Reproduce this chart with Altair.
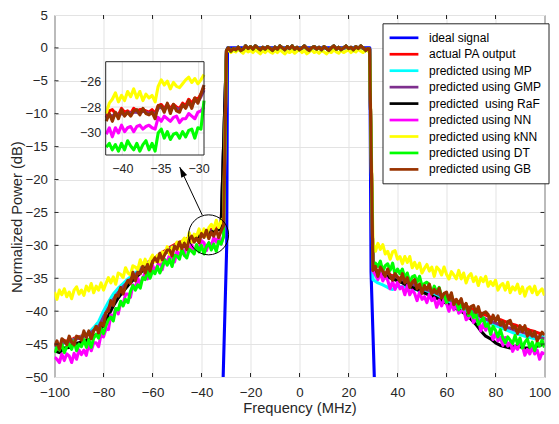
import altair as alt
import pandas as pd

NAMES = ["ideal signal", "actual PA output", "predicted using MP", "predicted using GMP",
         "predicted\u00a0 using RaF", "predicted using NN", "predicted using kNN",
         "predicted using DT", "predicted using GB"]
COLORS = ["#0000ff", "#ff0000", "#00ffff", "#7e2f8e", "#000000", "#ff00ff", "#ffff00",
          "#00ff00", "#993300"]

X_TICKS = [-100, -80, -60, -40, -20, 0, 20, 40, 60, 80, 100]
Y_TICKS = [5, 0, -5, -10, -15, -20, -25, -30, -35, -40, -45, -50]
INSET_X_TICKS = [-40, -35, -30]
INSET_Y_TICKS = [-30, -28, -26]
INSET_XDOM = [-42.17, -29.3]
INSET_YDOM = [-31.7, -24.5]

# frequency grids (MHz)
F_L1 = list(range(-100, -30))          # -100 .. -31
F_R1 = list(range(30, 101))            # 30 .. 100
F_L2 = list(range(-100, -31, 2))       # -100 .. -32
F_R2 = list(range(30, 101, 2))         # 30 .. 100
F_BAND = [-29.8] + list(range(-29, 29)) + [28.6]

IDEAL_F = [-31.3, -29.7, -29.4, 28.7, 29.2, 30.7]
IDEAL_P = [-52, -30, 0, 0, -34, -52]

BAND_COMMON = [-0.4, 0.0, -0.5, -0.1, -0.3, 0.1, -0.4, -0.2, 0.3, -0.1,
               0.2, -0.2, 0.3, 0.0, -0.3, 0.1, -0.2, 0.2, -0.1, -0.4,
               0.1, -0.2, 0.3, 0.0, -0.3, 0.2, -0.1, 0.3, -0.2, 0.1,
               -0.3, 0.0, 0.3, -0.1, -0.4, 0.0, 0.2, -0.2, 0.1, -0.3,
               0.2, -0.1, -0.4, 0.0, 0.3, -0.2, 0.1, -0.3, 0.0, 0.3,
               -0.1, 0.1, -0.3, 0.2, -0.1, 0.3, 0.0, -0.4, -0.1, -0.2]
BAND_KNN = [-0.6, -0.3, -0.7, -0.4, -0.6, -0.2, -0.5, -0.8, -0.3, -0.6,
            -0.4, -0.7, -0.3, -0.6, -0.9, -0.4, -0.7, -0.3, -0.6, -0.8,
            -0.4, -0.7, -0.3, -0.6, -0.9, -0.5, -0.7, -0.4, -0.8, -0.5,
            -0.3, -0.7, -0.4, -0.9, -0.6, -0.3, -0.7, -0.5, -0.8, -0.4,
            -0.6, -0.9, -0.5, -0.7, -0.3, -0.6, -0.8, -0.4, -0.7, -0.5,
            -0.3, -0.7, -0.4, -0.6, -0.2, -0.5, -0.7, -0.3, -0.5, -0.4]

# 1 MHz series, left side (-100..-31)
KNN_L = [-37.1, -38.2, -36.8, -37.5, -36.6, -37.8, -37.1, -38.1, -36.8, -36.3,
         -37.4, -36.8, -37.6, -36.2, -36.9, -35.8, -37.2, -36.2, -36.8, -35.7,
         -36.8, -35.8, -34.9, -35.7, -34.8, -35.9, -34.2, -34.4, -34.9, -33.4,
         -34.2, -34.5, -33.1, -33.3, -33.7, -32.2, -33.2, -32.1, -33.4, -32.2,
         -31.5, -32.5, -31.5, -32.5, -31.0, -31.3, -30.2, -31.4, -30.3, -30.6,
         -29.5, -30.6, -29.5, -28.9, -29.6, -28.1, -29.5, -28.3, -28.6, -27.5,
         -28.6, -27.5, -28.6, -27.3, -26.8, -27.5, -26.2, -27.3, -26.4, -25.8]
GB_L = [-45.3, -44.5, -45.8, -44.2, -44.5, -45.1, -43.8, -44.7, -45.1, -43.8,
        -44.0, -44.4, -43.0, -44.0, -43.0, -44.2, -43.0, -42.3, -43.3, -41.8,
        -42.2, -40.2, -40.0, -38.4, -39.1, -37.6, -37.7, -36.4, -37.4, -36.1,
        -35.3, -35.8, -34.1, -35.4, -34.1, -34.3, -33.2, -34.2, -32.9, -33.9,
        -32.5, -31.9, -32.5, -31.2, -32.2, -31.4, -30.7, -30.7, -31.6, -30.1,
        -30.6, -29.5, -30.5, -29.7, -30.6, -29.1, -28.6, -29.5, -28.9, -29.6,
        -28.2, -28.8, -27.7, -29.0, -28.0, -28.6, -27.6, -28.8, -27.8, -27.0]
DT_L = [-46.3, -45.5, -45.9, -45.0, -46.3, -45.4, -45.0, -45.8, -44.5, -46.0,
        -45.0, -45.4, -44.3, -45.5, -44.3, -45.5, -44.1, -43.5, -44.1, -42.6,
        -43.4, -42.2, -41.3, -40.9, -41.5, -39.6, -39.8, -38.5, -39.2, -38.2,
        -38.7, -37.0, -36.1, -36.8, -36.0, -36.5, -34.9, -35.2, -33.9, -35.0,
        -33.9, -34.3, -33.2, -34.2, -33.2, -32.2, -33.0, -32.1, -33.2, -31.5,
        -31.6, -32.1, -30.6, -31.5, -31.9, -30.6, -30.9, -31.3, -29.9, -31.0,
        -30.0, -31.3, -30.2, -29.6, -30.7, -29.8, -30.9, -29.4, -29.8, -28.7]
NN_L = [-47.0, -47.3, -47.8, -46.5, -47.5, -46.5, -46.8, -47.8, -46.4, -47.3,
        -45.9, -46.6, -45.9, -46.7, -44.9, -46.0, -44.8, -44.8, -45.4, -43.5,
        -43.9, -42.7, -42.8, -40.6, -40.8, -39.6, -40.4, -38.7, -39.0, -37.4,
        -37.4, -37.9, -36.0, -36.5, -35.0, -35.9, -35.0, -34.2, -35.1, -34.2,
        -33.0, -34.0, -33.1, -32.4, -33.7, -32.1, -32.6, -31.4, -31.9, -32.5,
        -30.9, -31.6, -30.7, -31.5, -29.9, -30.8, -29.9, -31.1, -30.1, -30.5,
        -29.3, -29.6, -30.8, -29.6, -30.1, -28.8, -29.5, -28.7, -29.8, -28.5]

# 1 MHz series, right side (30..100)
KNN_R = [-29.6, -30.9, -29.7, -30.6, -29.9, -31.3, -30.9, -32.1, -31.0, -30.8,
         -32.1, -31.7, -32.8, -31.7, -32.6, -31.7, -33.4, -32.6, -33.5, -32.7,
         -34.2, -33.5, -32.9, -33.9, -33.3, -34.7, -33.3, -33.7, -34.5, -33.3,
         -34.4, -35.1, -34.0, -34.5, -35.1, -33.8, -35.1, -34.2, -35.7, -34.7,
         -34.3, -35.5, -34.8, -36.1, -34.9, -35.5, -34.7, -36.2, -35.5, -36.1,
         -35.3, -36.8, -36.1, -35.8, -36.8, -35.6, -37.2, -36.3, -36.8, -35.9,
         -37.3, -36.3, -37.7, -36.6, -36.3, -37.2, -36.2, -37.5, -37.0, -36.6,
         -37.6]
GB_R = [-33.8, -33.2, -34.7, -33.3, -33.9, -34.7, -33.6, -34.7, -35.3, -34.3,
        -34.8, -35.5, -34.3, -35.7, -34.9, -36.4, -35.6, -35.2, -36.6, -35.9,
        -37.3, -36.1, -36.7, -35.9, -37.4, -36.7, -37.3, -36.5, -38.0, -37.3,
        -37.1, -38.3, -37.2, -39.0, -38.2, -38.9, -38.1, -39.6, -38.8, -40.3,
        -39.3, -39.1, -40.2, -39.3, -40.8, -40.3, -40.1, -40.5, -41.8, -40.6,
        -41.5, -40.7, -42.1, -41.6, -42.8, -41.6, -41.4, -42.6, -42.3, -43.4,
        -42.2, -43.1, -42.2, -43.8, -43.0, -43.8, -43.1, -44.5, -43.8, -43.2,
        -43.6]
DT_R = [-33.4, -32.7, -33.2, -32.4, -33.9, -33.1, -32.8, -33.8, -32.7, -34.4,
        -33.6, -34.3, -33.6, -35.0, -34.2, -35.7, -34.8, -34.6, -35.6, -34.7,
        -36.2, -35.8, -35.6, -36.0, -37.3, -36.2, -37.1, -36.4, -37.8, -37.5,
        -38.7, -37.7, -37.5, -38.9, -38.6, -39.8, -38.7, -39.7, -38.9, -40.7,
        -40.0, -41.0, -40.4, -42.0, -41.5, -41.0, -42.3, -41.9, -43.5, -42.3,
        -42.9, -43.9, -42.8, -44.1, -44.8, -43.9, -44.4, -44.9, -43.7, -45.0,
        -44.1, -45.6, -44.7, -44.2, -45.5, -44.7, -46.0, -44.7, -45.3, -44.4,
        -45.5]
NN_R = [-33.9, -34.5, -35.2, -34.1, -35.4, -34.7, -35.3, -36.6, -35.5, -36.7,
        -35.6, -36.6, -36.3, -37.5, -36.1, -37.5, -36.8, -37.3, -38.4, -37.1,
        -38.2, -37.8, -38.7, -37.4, -38.4, -38.0, -39.4, -38.3, -39.2, -38.2,
        -38.8, -40.0, -38.8, -39.8, -38.8, -40.3, -40.0, -39.8, -41.3, -41.0,
        -40.2, -41.7, -41.3, -41.2, -43.0, -41.9, -42.9, -42.2, -43.2, -44.3,
        -43.3, -44.5, -44.0, -45.2, -44.0, -45.3, -44.7, -46.1, -45.3, -45.8,
        -44.8, -45.3, -46.7, -45.8, -46.5, -45.4, -46.5, -45.9, -47.3, -46.3,
        -46.5]

# 2 MHz series (mostly hidden under GB)
PA_L = [-45.0, -45.2, -44.5, -44.6, -44.1, -43.9, -43.7, -43.4, -42.7, -42.2,
        -40.7, -39.4, -38.1, -37.0, -36.1, -35.3, -34.6, -33.9, -33.2, -32.6,
        -32.2, -31.6, -31.1, -30.6, -30.1, -29.7, -29.4, -29.0, -28.7, -28.4,
        -28.1, -27.8, -27.6, -27.4, -27.1]
MP_L = [-45.3, -45.4, -44.8, -44.7, -44.3, -44.0, -43.8, -43.3, -42.5, -41.6,
        -40.0, -38.6, -37.4, -36.5, -35.8, -35.1, -34.5, -33.9, -33.3, -32.7,
        -32.3, -31.8, -31.3, -30.8, -30.3, -29.9, -29.6, -29.2, -28.9, -28.6,
        -28.3, -28.1, -27.9, -27.6, -27.4]
GMP_L = [-45.2, -45.3, -44.7, -44.8, -44.3, -44.1, -43.8, -43.5, -42.9, -42.4,
         -40.9, -39.6, -38.3, -37.2, -36.3, -35.5, -34.8, -34.1, -33.4, -32.8,
         -32.4, -31.8, -31.3, -30.8, -30.3, -29.9, -29.6, -29.2, -28.9, -28.6,
         -28.3, -28.0, -27.8, -27.6, -27.3]
RAF_L = [-46.0, -46.3, -45.6, -45.5, -45.0, -44.8, -44.6, -44.3, -43.8, -43.4,
         -42.1, -40.7, -39.2, -38.0, -37.0, -36.1, -35.3, -34.6, -33.8, -33.1,
         -32.6, -32.0, -31.5, -31.0, -30.5, -30.1, -29.8, -29.4, -29.1, -28.8,
         -28.5, -28.2, -28.0, -27.7, -27.5]
PA_R = [-33.6, -33.9, -34.0, -34.4, -34.6, -34.9, -35.1, -35.5, -35.8, -36.0,
        -36.4, -36.6, -36.8, -37.1, -37.5, -37.8, -38.1, -38.5, -38.8, -39.2,
        -39.6, -39.9, -40.3, -40.6, -40.9, -41.2, -41.3, -41.6, -41.9, -42.1,
        -42.4, -42.6, -42.9, -43.1, -43.4, -43.6]
MP_R = [-35.2, -35.7, -36.0, -36.4, -36.7, -36.2, -36.3, -36.4, -36.6, -36.8,
        -37.0, -37.2, -37.4, -37.6, -37.9, -38.3, -38.7, -39.1, -39.5, -39.9,
        -40.3, -40.7, -41.1, -41.5, -41.9, -42.2, -42.5, -42.8, -43.1, -43.4,
        -43.6, -43.8, -44.0, -44.2, -44.0, -43.8]
GMP_R = [-33.8, -34.1, -34.2, -34.6, -34.8, -35.1, -35.3, -35.7, -36.0, -36.2,
         -36.6, -36.8, -37.0, -37.3, -37.7, -38.0, -38.4, -38.8, -39.2, -39.6,
         -40.0, -40.4, -40.8, -41.2, -41.5, -41.8, -42.1, -42.4, -42.6, -42.9,
         -43.1, -43.3, -43.6, -43.8, -44.0, -44.2]
RAF_R = [-33.8, -34.2, -34.4, -34.8, -35.1, -35.4, -35.7, -36.1, -36.4, -36.7,
         -37.1, -37.4, -37.7, -38.0, -38.4, -38.8, -39.2, -39.6, -40.0, -40.5,
         -41.2, -42.0, -43.0, -43.8, -44.2, -44.8, -45.2, -45.4, -45.6, -45.3,
         -45.4, -45.6, -45.6, -45.4, -45.2, -45.0]

# inset (zoom of -42..-29 MHz)
INSET_F = [-42.1, -41.7, -41.3, -40.9, -40.5, -40.1, -39.7, -39.3, -38.9, -38.5,
           -38.1, -37.7, -37.3, -36.9, -36.5, -36.1, -35.7, -35.3, -34.9, -34.5,
           -34.1, -33.7, -33.3, -32.9, -32.5, -32.1, -31.7, -31.3, -30.9, -30.5,
           -30.1, -29.7, -29.3]
IN_KNN = [-28.5, -27.7, -27.4, -26.9, -27.6, -27.1, -27.5, -26.8, -27.2, -26.6,
          -27.3, -26.8, -27.5, -27.0, -27.3, -27.1, -27.6, -26.4, -25.9, -26.3,
          -26.0, -26.6, -26.1, -26.4, -26.5, -26.2, -25.9, -25.7, -26.1, -25.8,
          -26.2, -25.9, -25.5]
IN_GB = [-29.1, -28.5, -29.1, -28.4, -28.9, -28.2, -28.7, -28.4, -28.7, -28.3,
         -28.2, -28.6, -28.1, -28.5, -28.6, -28.4, -28.9, -27.9, -27.9, -28.4,
         -27.7, -28.5, -27.8, -28.3, -28.4, -27.8, -28.1, -27.5, -28.1, -27.3,
         -27.7, -27.0, -26.3]
IN_NN = [-30.1, -29.6, -30.3, -29.6, -30.0, -29.4, -29.9, -29.6, -29.5, -29.9,
         -29.5, -29.4, -29.7, -29.5, -29.4, -29.6, -29.7, -28.8, -29.1, -28.7,
         -28.9, -29.1, -28.8, -28.7, -29.2, -28.9, -28.9, -28.5, -28.7, -28.9,
         -28.4, -28.3, -28.0]
IN_DT = [-31.1, -30.8, -31.3, -30.9, -31.4, -30.8, -31.3, -30.6, -31.0, -31.3,
         -30.8, -31.4, -30.9, -30.6, -31.3, -30.8, -31.4, -30.0, -29.7, -30.4,
         -29.9, -30.5, -30.1, -30.0, -30.4, -29.9, -30.3, -29.8, -29.7, -30.4,
         -29.6, -29.7, -27.5]
IN_PA = [-28.8, -28.3, -28.2, -28.5, -28.6, -28.1, -28.4, -28.3, -28.5, -28.1,
         -28.3, -28.2, -28.2, -28.3, -28.4, -28.2, -28.5, -27.9, -27.8, -28.1,
         -27.8, -28.1, -27.8, -28.0, -28.1, -27.7, -27.9, -27.4, -27.7, -27.3,
         -27.4, -27.0, -26.5]
IN_GMP = [-28.9, -28.6, -28.7, -28.5, -28.6, -28.5, -28.6, -28.4, -28.5, -28.4,
          -28.4, -28.5, -28.3, -28.4, -28.5, -28.4, -28.6, -28.1, -28.0, -28.2,
          -27.9, -28.2, -28.0, -28.1, -28.2, -27.9, -28.0, -27.7, -27.9, -27.5,
          -27.6, -27.2, -26.7]

# annotation: circle and arrow (data coordinates)
CIRCLE_F = [-37.1]
CIRCLE_P = [-28.4]
ARROW_F = [-39.7, -48.9]
ARROW_P = [-25.4, -18.1]

series = [
    (NAMES[0], IDEAL_F, IDEAL_P),
    (NAMES[1], F_L2 + F_BAND + F_R2, PA_L + BAND_COMMON + PA_R),
    (NAMES[2], F_L2 + F_BAND + F_R2, MP_L + BAND_COMMON + MP_R),
    (NAMES[3], F_L2 + F_BAND + F_R2, GMP_L + BAND_COMMON + GMP_R),
    (NAMES[4], F_L2 + F_BAND + F_R2, RAF_L + BAND_COMMON + RAF_R),
    (NAMES[5], F_L1 + F_BAND + F_R1, NN_L + BAND_COMMON + NN_R),
    (NAMES[6], F_L1 + F_BAND + F_R1, KNN_L + BAND_KNN + KNN_R),
    (NAMES[7], F_L1 + F_BAND + F_R1, DT_L + BAND_COMMON + DT_R),
    (NAMES[8], F_L1 + F_BAND + F_R1, GB_L + BAND_COMMON + GB_R),
]
rows = []
for name, fs, ps in series:
    assert len(fs) == len(ps), (name, len(fs), len(ps))
    for f, p in zip(fs, ps):
        rows.append({"f": f, "p": p, "series": name})
df = pd.DataFrame(rows)

inset_series = [(IN_PA, COLORS[1]), (IN_GMP, COLORS[3]), (IN_NN, COLORS[5]),
                (IN_KNN, COLORS[6]), (IN_DT, COLORS[7]), (IN_GB, COLORS[8])]
for vals, _ in inset_series:
    assert len(vals) == len(INSET_F)

FONT = "Liberation Sans"
AX = "#262626"
W, H = 490, 362

xs = alt.Scale(domain=[-100, 100], nice=False, zero=False)
ys = alt.Scale(domain=[-50, 5], nice=False, zero=False)
x_axis = alt.Axis(values=X_TICKS, title="Frequency (MHz)", grid=True, ticks=False,
                  domain=False, labelFontSize=13.3, titleFontSize=14.7, labelPadding=8,
                  labelFlush=False, labelOverlap=False, titleY=31, titleBaseline="middle",
                  labelOffset={"condition": {"test": "datum.value == 100", "value": -5}, "value": 0})
y_axis = alt.Axis(values=Y_TICKS, title="Normalized Power (dB)", grid=True, ticks=False,
                  domain=False, labelFontSize=13.3, titleFontSize=14.7, labelPadding=7,
                  labelFlush=False, labelOverlap=False, titleX=-37.2, titleY=201.7,
                  titleBaseline="middle")

legend = alt.Legend(title=None, orient="none", legendX=328, legendY=8.3,
                    symbolType="M-2.4,0H2.4", symbolSize=144, symbolStrokeWidth=2.7,
                    symbolOffset=7, labelOffset=17.5, rowPadding=2.45, padding=7,
                    strokeColor=AX, fillColor="white", labelFontSize=12,
                    labelColor="black", labelLimit=400)
color = alt.Color("series:N", scale=alt.Scale(domain=NAMES, range=COLORS), legend=legend)

main_layers = []
for name in NAMES:
    main_layers.append(
        alt.Chart(df).transform_filter(alt.datum.series == name)
        .mark_line(strokeWidth=3.1, strokeJoin="round", clip=True)
        .encode(x=alt.X("f:Q", scale=xs, axis=x_axis),
                y=alt.Y("p:Q", scale=ys, axis=y_axis),
                color=color)
    )

xt = pd.DataFrame({"t": X_TICKS[1:-1]})
yt = pd.DataFrame({"t": Y_TICKS[1:-1]})
tick_x = alt.X("t:Q", scale=xs, axis=x_axis)
tick_y = alt.Y("t:Q", scale=ys, axis=y_axis)
ticks = [
    alt.Chart(xt).mark_rule(color=AX, strokeWidth=1).encode(x=tick_x, y=alt.value(H), y2=alt.value(H - 4)),
    alt.Chart(xt).mark_rule(color=AX, strokeWidth=1).encode(x=tick_x, y=alt.value(0), y2=alt.value(4)),
    alt.Chart(yt).mark_rule(color=AX, strokeWidth=1).encode(y=tick_y, x=alt.value(0), x2=alt.value(4)),
    alt.Chart(yt).mark_rule(color=AX, strokeWidth=1).encode(y=tick_y, x=alt.value(W), x2=alt.value(W - 4)),
]

circ_df = pd.DataFrame({"f": CIRCLE_F, "p": CIRCLE_P})
circle = alt.Chart(circ_df).mark_point(shape="circle", size=1600, filled=False, color="black",
                                       strokeWidth=1, opacity=1).encode(
    x=alt.X("f:Q", scale=xs, axis=x_axis), y=alt.Y("p:Q", scale=ys, axis=y_axis))
arrow_df = pd.DataFrame({"f0": [ARROW_F[0]], "f1": [ARROW_F[1]], "p0": [ARROW_P[0]], "p1": [ARROW_P[1]]})
arrow_line = alt.Chart(arrow_df).mark_rule(color="black", strokeWidth=1).encode(
    x=alt.X("f0:Q", scale=xs, axis=x_axis), x2="f1:Q",
    y=alt.Y("p0:Q", scale=ys, axis=y_axis), y2="p1:Q")
tip_df = pd.DataFrame({"f": [ARROW_F[1]], "p": [ARROW_P[1]]})
arrow_head = alt.Chart(tip_df).mark_point(shape="M0,0L0.8,2.6L-0.8,2.6Z", size=64, filled=True,
                                          color="black", opacity=1, angle=334.5).encode(
    x=alt.X("f:Q", scale=xs, axis=x_axis), y=alt.Y("p:Q", scale=ys, axis=y_axis))

main = alt.layer(*main_layers, *ticks, circle, arrow_line, arrow_head)

# ---- inset ----
ixs = alt.Scale(domain=INSET_XDOM, range=[51.2, 149.5], nice=False, zero=False)
iys = alt.Scale(domain=INSET_YDOM, range=[140, 46.7], nice=False, zero=False)
ix_axis = alt.Axis(orient="bottom", offset=-222, values=INSET_X_TICKS, grid=False, ticks=False,
                   domain=False, title=None, labelFontSize=12.5, labelPadding=7,
                   labelFlush=False, labelOverlap=False, zindex=1)
iy_axis = alt.Axis(orient="left", offset=-51.2, values=INSET_Y_TICKS, grid=False, ticks=False,
                   domain=False, title=None, labelFontSize=12.5, labelPadding=5,
                   labelFlush=False, labelOverlap=False, zindex=1)

box_df = pd.DataFrame({"x0": [INSET_XDOM[0]], "x1": [INSET_XDOM[1]],
                       "y0": [INSET_YDOM[0]], "y1": [INSET_YDOM[1]]})
inset_bg = alt.Chart(box_df).mark_rect(fill="white", stroke=None).encode(
    x=alt.X("x0:Q", scale=ixs, axis=ix_axis), x2="x1:Q",
    y=alt.Y("y0:Q", scale=iys, axis=iy_axis), y2="y1:Q")
igx = pd.DataFrame({"t": INSET_X_TICKS, "y0": INSET_YDOM[0], "y1": INSET_YDOM[1]})
igy = pd.DataFrame({"t": INSET_Y_TICKS, "x0": INSET_XDOM[0], "x1": INSET_XDOM[1]})
inset_gx = alt.Chart(igx).mark_rule(color="#e3e3e3", strokeWidth=1).encode(
    x=alt.X("t:Q", scale=ixs, axis=ix_axis), y=alt.Y("y0:Q", scale=iys, axis=iy_axis), y2="y1:Q")
inset_gy = alt.Chart(igy).mark_rule(color="#e3e3e3", strokeWidth=1).encode(
    y=alt.Y("t:Q", scale=iys, axis=iy_axis), x=alt.X("x0:Q", scale=ixs, axis=ix_axis), x2="x1:Q")
inset_lines = []
for vals, col in inset_series:
    idf = pd.DataFrame({"f": INSET_F, "p": vals})
    inset_lines.append(
        alt.Chart(idf).mark_line(strokeWidth=3.1, strokeJoin="round", color=col).encode(
            x=alt.X("f:Q", scale=ixs, axis=ix_axis), y=alt.Y("p:Q", scale=iys, axis=iy_axis)))
inset_frame = alt.Chart(box_df).mark_rect(fill=None, stroke=AX, strokeWidth=1).encode(
    x=alt.X("x0:Q", scale=ixs, axis=ix_axis), x2="x1:Q",
    y=alt.Y("y0:Q", scale=iys, axis=iy_axis), y2="y1:Q")
inset = alt.layer(inset_bg, inset_gx, inset_gy, *inset_lines, inset_frame)

chart = alt.layer(main, inset).resolve_scale(x="independent", y="independent").properties(
    width=W, height=H,
    padding={"left": 46.5, "top": 7, "right": 6.5, "bottom": 39},
    autosize=alt.AutoSizeParams(type="none"),
).configure(font=FONT).configure_view(stroke=AX, strokeWidth=1).configure_axis(
    labelFont=FONT, titleFont=FONT, labelColor=AX, titleColor=AX, titleFontWeight="normal",
    gridColor="#e3e3e3", gridWidth=1
).configure_legend(labelFont=FONT)

chart.save("out.html", embed_options={"renderer": "svg", "actions": False})
